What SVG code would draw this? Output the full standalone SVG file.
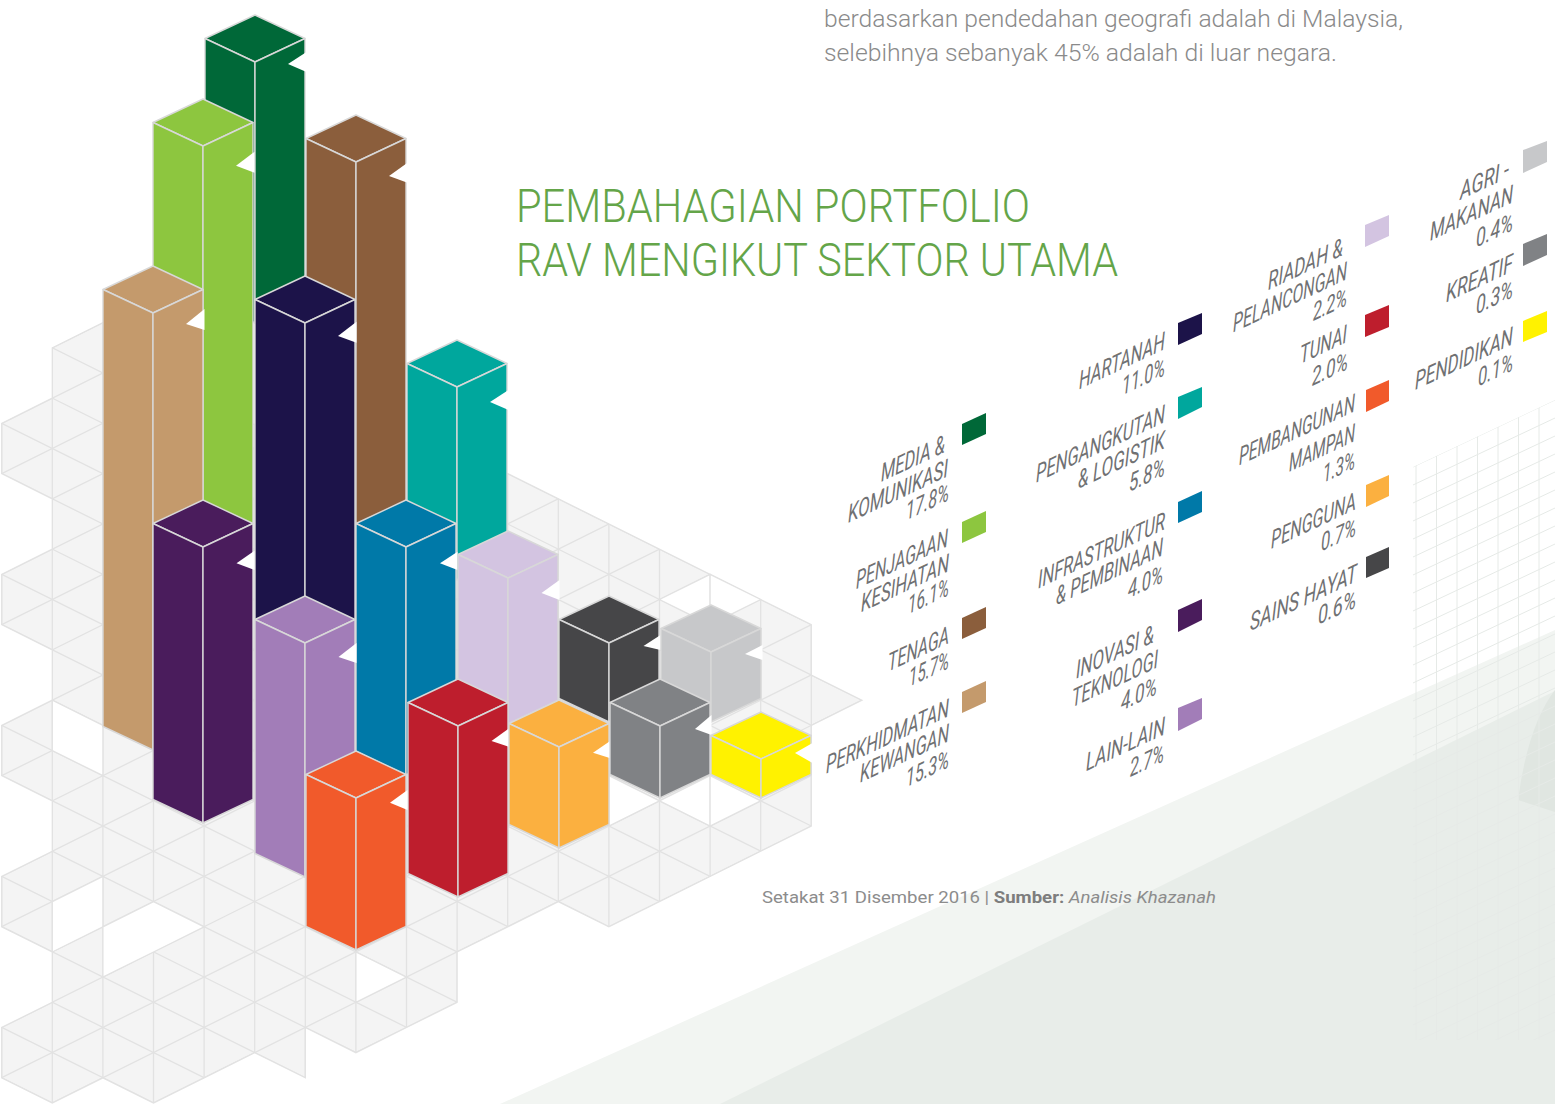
<svg xmlns="http://www.w3.org/2000/svg" width="1555" height="1104" viewBox="0 0 1555 1104">
<style>
.gl{fill:none;stroke:#e2e2e2;stroke-width:1.3}
.hole{fill:#ffffff;stroke:#e2e2e2;stroke-width:1.3;stroke-linejoin:round}
.fg{fill:none;stroke:#e6eae7;stroke-width:1}
.bar polygon{stroke:#d8d8d8;stroke-width:1.4;stroke-linejoin:round}
.bar polygon.n{fill:#ffffff;stroke:none}
.lg{font-family:Roboto,"Liberation Sans",sans-serif;font-weight:400;font-style:italic;font-size:25px;fill:#707173}
.para{font-family:Roboto,"Liberation Sans",sans-serif;font-weight:300;font-size:23px;fill:#8a8a8a}
.title{font-family:Roboto,"Liberation Sans",sans-serif;font-weight:300;font-size:46px;fill:#64a549}
.foot{font-family:Roboto,"Liberation Sans",sans-serif;font-weight:400;font-size:17px;fill:#8c8c8c}
</style>
<defs>
<clipPath id="gridclip">
<polygon id="gridpoly" points="102.9,322.6 130,330 200,420 330,430 450,450 507.7,473.6 811.3,624.7 811.3,675 861.9,700.2 811.3,725.4 811.3,826.1 608.9,926.8 558.3,901.6 507.7,926.8 457.1,952 457.1,1002.3 406.5,1027.5 355.9,1052.7 305.3,1027.5 305.3,1077.8 254.7,1052.7 204.1,1077.8 153.5,1103 102.9,1077.8 52.3,1103 1.7,1077.8 1.7,1027.5 52.3,1002.3 52.3,952 1.7,926.8 1.7,876.4 52.3,851.3 52.3,800.9 1.7,775.7 1.7,725.4 52.3,700.2 52.3,649.9 1.7,624.7 1.7,574.3 52.3,549.2 52.3,498.8 1.7,473.6 1.7,423.3 52.3,398.1 52.3,347.8"/>
</clipPath>
<clipPath id="fgclip">
<polygon points="1413,467 1555,400 1555,1040 1413,1040"/>
</clipPath>
</defs>

<rect x="0" y="0" width="1555" height="1104" fill="#ffffff"/>

<g id="background">
<polygon points="500,1104 1555,630 1555,1104" fill="#f2f5f2"/>
<polygon points="720,1104 1555,691 1555,1104" fill="#e8ede9"/>
<path d="M1555,690 Q1528,725 1518,800 L1555,812 Z" fill="#e0e6e1"/>
<g clip-path="url(#fgclip)" class="fg">
<path d="M1416,300V1040M1436.5,300V1040M1457,300V1040M1477.5,300V1040M1498,300V1040M1518.5,300V1040M1539,300V1040"/>
<path d="M1413,467l142,-67M1413,485l142,-67M1413,503l142,-67M1413,521l142,-67M1413,539l142,-67M1413,557l142,-67M1413,575l142,-67M1413,593l142,-67M1413,611l142,-67M1413,629l142,-67M1413,647l142,-67M1413,665l142,-67M1413,683l142,-67M1413,701l142,-67M1413,719l142,-67M1413,737l142,-67M1413,755l142,-67M1413,773l142,-67M1413,791l142,-67M1413,809l142,-67M1413,827l142,-67M1413,845l142,-67M1413,863l142,-67M1413,881l142,-67M1413,899l142,-67M1413,917l142,-67M1413,935l142,-67M1413,953l142,-67M1413,971l142,-67M1413,989l142,-67M1413,1007l142,-67M1413,1025l142,-67M1413,1043l142,-67M1413,1061l142,-67M1413,1079l142,-67M1413,1097l142,-67"/>
</g>
</g>

<g id="grid">
<use href="#gridpoly" fill="#f4f4f4" stroke="#e2e2e2" stroke-width="1.3"/>
<g clip-path="url(#gridclip)" class="gl">
<path d="M1.7,280V1104M52.3,280V1104M102.9,280V1104M153.5,280V1104M204.1,280V1104M254.7,280V1104M305.3,280V1104M355.9,280V1104M406.5,280V1104M457.1,280V1104M507.7,280V1104M558.3,280V1104M608.9,280V1104M659.5,280V1104M710.1,280V1104M760.7,280V1104M811.3,280V1104M861.9,280V1104"/>
<path d="M0,-131.29l870,432.77M0,-80.95l870,432.77M0,-30.61l870,432.77M0,19.73l870,432.77M0,70.07l870,432.77M0,120.41l870,432.77M0,170.75l870,432.77M0,221.09l870,432.77M0,271.43l870,432.77M0,321.77l870,432.77M0,372.11l870,432.77M0,422.45l870,432.77M0,472.79l870,432.77M0,523.13l870,432.77M0,573.47l870,432.77M0,623.81l870,432.77M0,674.15l870,432.77M0,724.49l870,432.77M0,774.83l870,432.77M0,825.17l870,432.77M0,875.51l870,432.77M0,925.85l870,432.77M0,976.19l870,432.77M0,1026.53l870,432.77M0,1076.87l870,432.77"/>
<path d="M0,273.13l870,-432.77M0,323.47l870,-432.77M0,373.81l870,-432.77M0,424.15l870,-432.77M0,474.49l870,-432.77M0,524.83l870,-432.77M0,575.17l870,-432.77M0,625.51l870,-432.77M0,675.85l870,-432.77M0,726.19l870,-432.77M0,776.53l870,-432.77M0,826.87l870,-432.77M0,877.21l870,-432.77M0,927.55l870,-432.77M0,977.89l870,-432.77M0,1028.23l870,-432.77M0,1078.57l870,-432.77M0,1128.91l870,-432.77M0,1179.25l870,-432.77M0,1229.59l870,-432.77M0,1279.93l870,-432.77M0,1330.27l870,-432.77M0,1380.61l870,-432.77M0,1430.95l870,-432.77M0,1481.29l870,-432.77M0,1531.63l870,-432.77"/>
</g>
<polygon class="hole" points="52.3,700.2 102.9,725.4 102.9,775.7 52.3,750.6"/>
<polygon class="hole" points="52.3,901.6 102.9,876.4 102.9,926.8 52.3,952"/>
<polygon class="hole" points="102.9,926.8 153.5,901.6 204.1,926.8 153.5,952 102.9,977.1"/>
<polygon class="hole" points="355.9,952 406.5,977.1 355.9,1002.3"/>
<polygon class="hole" points="608.9,775.7 659.5,800.9 608.9,826.1"/>
<polygon class="hole" points="659.5,800.9 710.1,775.7 710.1,826.1"/>
<polygon class="hole" points="710.1,775.7 760.7,800.9 710.1,826.1"/>
<polygon class="hole" points="659.5,599.5 710.1,574.3 710.1,624.7"/>
<polygon class="hole" points="710.1,574.3 760.7,599.5 710.1,624.7"/>
</g>

<g id="bars">
<g id="bar-media" class="bar" fill="#006838">
<polygon points="255,15 305,38.5 255,62 205,38.5"/>
<polygon points="205,38.5 255,62 255,323 205,299.5"/>
<polygon points="255,62 305,38.5 305,299.5 255,323"/>
<polygon class="n" points="306.5,52 288,64 306.5,72"/>
</g>
<g id="bar-penjagaan" class="bar" fill="#8dc63f">
<polygon points="203,99 253,122.5 203,146 153,122.5"/>
<polygon points="153,122.5 203,146 203,547 153,523.5"/>
<polygon points="203,146 253,122.5 253,523.5 203,547"/>
<polygon class="n" points="254.5,151.7 236,165.7 254.5,172.7"/>
</g>
<g id="bar-tenaga" class="bar" fill="#8b5e3c">
<polygon points="356,115 406,138.5 356,162 306,138.5"/>
<polygon points="306,138.5 356,162 356,547 306,523.5"/>
<polygon points="356,162 406,138.5 406,523.5 356,547"/>
<polygon class="n" points="407.5,162.7 389,176 407.5,182.7"/>
</g>
<g id="bar-perkhidmatan" class="bar" fill="#c49a6c">
<polygon points="153,266 203,289.5 153,313 103,289.5"/>
<polygon points="103,289.5 153,313 153,750 103,726.5"/>
<polygon points="153,313 203,289.5 203,726.5 153,750"/>
<polygon class="n" points="204.5,309 186,324 204.5,330"/>
</g>
<g id="bar-hartanah" class="bar" fill="#1c1349">
<polygon points="305,276 355,299.5 305,323 255,299.5"/>
<polygon points="255,299.5 305,323 305,643 255,619.5"/>
<polygon points="305,323 355,299.5 355,619.5 305,643"/>
<polygon class="n" points="356.5,321.7 338,336 356.5,342.7"/>
</g>
<g id="bar-pengangkutan" class="bar" fill="#00a79d">
<polygon points="457,340 507,363.5 457,387 407,363.5"/>
<polygon points="407,363.5 457,387 457,580 407,556.5"/>
<polygon points="457,387 507,363.5 507,556.5 457,580"/>
<polygon class="n" points="508.5,390 490,402 508.5,410"/>
</g>
<g id="bar-inovasi" class="bar" fill="#4a1c5c">
<polygon points="203,500 253,523.5 203,547 153,523.5"/>
<polygon points="153,523.5 203,547 203,823 153,799.5"/>
<polygon points="203,547 253,523.5 253,799.5 203,823"/>
<polygon class="n" points="254.5,550.7 236.5,563.3 254.5,570"/>
</g>
<g id="bar-infrastruktur" class="bar" fill="#0079a8">
<polygon points="406,500 456,523.5 406,547 356,523.5"/>
<polygon points="356,523.5 406,547 406,775 356,751.5"/>
<polygon points="406,547 456,523.5 456,751.5 406,775"/>
<polygon class="n" points="457.5,551.7 440,563.3 457.5,570"/>
</g>
<g id="bar-riadah" class="bar" fill="#d3c4e1">
<polygon points="508,531 558,554.5 508,578 458,554.5"/>
<polygon points="458,554.5 508,578 508,724 458,700.5"/>
<polygon points="508,578 558,554.5 558,700.5 508,724"/>
<polygon class="n" points="559.5,580 541.5,593 559.5,600"/>
</g>
<g id="bar-lainlain" class="bar" fill="#a27db8">
<polygon points="305,596 355,619.5 305,643 255,619.5"/>
<polygon points="255,619.5 305,643 305,877 255,853.5"/>
<polygon points="305,643 355,619.5 355,853.5 305,877"/>
<polygon class="n" points="356.5,643 338.5,657 356.5,663"/>
</g>
<g id="bar-sainshayat" class="bar" fill="#464648">
<polygon points="609,596 659,619.5 609,643 559,619.5"/>
<polygon points="559,619.5 609,643 609,722 559,698.5"/>
<polygon points="609,643 659,619.5 659,698.5 609,722"/>
<polygon class="n" points="660.5,635 643.5,646 660.5,650"/>
</g>
<g id="bar-agri" class="bar" fill="#c7c8ca">
<polygon points="711,605 761,628.5 711,652 661,628.5"/>
<polygon points="661,628.5 711,652 711,722 661,698.5"/>
<polygon points="711,652 761,628.5 761,698.5 711,722"/>
<polygon class="n" points="762.5,645 745,654 762.5,660"/>
</g>
<g id="bar-tunai" class="bar" fill="#be1e2d">
<polygon points="458,679 508,702.5 458,726 408,702.5"/>
<polygon points="408,702.5 458,726 458,897 408,873.5"/>
<polygon points="458,726 508,702.5 508,873.5 458,897"/>
<polygon class="n" points="509.5,728 491.5,741 509.5,747"/>
</g>
<g id="bar-pengguna" class="bar" fill="#fbb040">
<polygon points="559,700 609,723.5 559,747 509,723.5"/>
<polygon points="509,723.5 559,747 559,848 509,824.5"/>
<polygon points="559,747 609,723.5 609,824.5 559,848"/>
<polygon class="n" points="610.5,740.7 593,752.7 610.5,758.3"/>
</g>
<g id="bar-kreatif" class="bar" fill="#808285">
<polygon points="660,679 710,702.5 660,726 610,702.5"/>
<polygon points="610,702.5 660,726 660,798 610,774.5"/>
<polygon points="660,726 710,702.5 710,774.5 660,798"/>
<polygon class="n" points="711.5,715 695,729 711.5,735"/>
</g>
<g id="bar-pendidikan" class="bar" fill="#fff200">
<polygon points="761,712 811,735.5 761,759 711,735.5"/>
<polygon points="711,735.5 761,759 761,798 711,774.5"/>
<polygon points="761,759 811,735.5 811,774.5 761,798"/>
<polygon class="n" points="812.5,743 795,753 812.5,763"/>
</g>
<g id="bar-pembangunan" class="bar" fill="#f15a2b">
<polygon points="356,751 406,774.5 356,798 306,774.5"/>
<polygon points="306,774.5 356,798 356,950 306,926.5"/>
<polygon points="356,798 406,774.5 406,926.5 356,950"/>
<polygon class="n" points="407.5,790 390,802.7 407.5,810"/>
</g>
</g>

<g id="intro-text" class="para">
<text x="824" y="27" textLength="579" lengthAdjust="spacingAndGlyphs">berdasarkan pendedahan geografi adalah di Malaysia,</text>
<text x="824" y="61" textLength="513" lengthAdjust="spacingAndGlyphs">selebihnya sebanyak 45% adalah di luar negara.</text>
</g>

<g id="title" class="title">
<text x="516" y="222" textLength="514" lengthAdjust="spacingAndGlyphs">PEMBAHAGIAN PORTFOLIO</text>
<text x="516" y="276" textLength="602" lengthAdjust="spacingAndGlyphs">RAV MENGIKUT SEKTOR UTAMA</text>
</g>

<g id="legend" class="lg" text-anchor="end">
<g id="lg-media">
<polygon points="962,424 986,413 986,434 962,445" fill="#006838"/>
<text transform="matrix(1,-0.47,0,1,945,452)" textLength="64" lengthAdjust="spacingAndGlyphs">MEDIA &amp;</text>
<text transform="matrix(1,-0.47,0,1,948,476)" textLength="100" lengthAdjust="spacingAndGlyphs">KOMUNIKASI</text>
<text transform="matrix(1,-0.47,0,1,949,500)" textLength="43" lengthAdjust="spacingAndGlyphs">17.8%</text>
</g>
<g id="lg-penjagaan">
<polygon points="962,522 986,511 986,532 962,543" fill="#8dc63f"/>
<text transform="matrix(1,-0.47,0,1,948,546)" textLength="92" lengthAdjust="spacingAndGlyphs">PENJAGAAN</text>
<text transform="matrix(1,-0.47,0,1,949,571)" textLength="88" lengthAdjust="spacingAndGlyphs">KESIHATAN</text>
<text transform="matrix(1,-0.47,0,1,949,595)" textLength="41" lengthAdjust="spacingAndGlyphs">16.1%</text>
</g>
<g id="lg-tenaga">
<polygon points="962,618 986,607 986,628 962,639" fill="#8b5e3c"/>
<text transform="matrix(1,-0.47,0,1,949,643)" textLength="61" lengthAdjust="spacingAndGlyphs">TENAGA</text>
<text transform="matrix(1,-0.47,0,1,949,668)" textLength="40" lengthAdjust="spacingAndGlyphs">15.7%</text>
</g>
<g id="lg-perkhidmatan">
<polygon points="962,692 986,681 986,702 962,713" fill="#c49a6c"/>
<text transform="matrix(1,-0.47,0,1,949,716)" textLength="123" lengthAdjust="spacingAndGlyphs">PERKHIDMATAN</text>
<text transform="matrix(1,-0.47,0,1,949,741)" textLength="89" lengthAdjust="spacingAndGlyphs">KEWANGAN</text>
<text transform="matrix(1,-0.47,0,1,949,767)" textLength="43" lengthAdjust="spacingAndGlyphs">15.3%</text>
</g>
<g id="lg-hartanah">
<polygon points="1178,323 1202,313 1202,334 1178,345" fill="#1c1349"/>
<text transform="matrix(1,-0.47,0,1,1165,349)" textLength="86" lengthAdjust="spacingAndGlyphs">HARTANAH</text>
<text transform="matrix(1,-0.47,0,1,1165,375)" textLength="43" lengthAdjust="spacingAndGlyphs">11.0%</text>
</g>
<g id="lg-pengangkutan">
<polygon points="1178,397 1202,387 1202,407 1178,419" fill="#00a79d"/>
<text transform="matrix(1,-0.47,0,1,1165,422)" textLength="129" lengthAdjust="spacingAndGlyphs">PENGANGKUTAN</text>
<text transform="matrix(1,-0.47,0,1,1165,448)" textLength="87" lengthAdjust="spacingAndGlyphs">&amp; LOGISTIK</text>
<text transform="matrix(1,-0.47,0,1,1165,475)" textLength="36" lengthAdjust="spacingAndGlyphs">5.8%</text>
</g>
<g id="lg-infrastruktur">
<polygon points="1178,502 1202,491 1202,512 1178,523" fill="#0079a8"/>
<text transform="matrix(1,-0.47,0,1,1165,529)" textLength="127" lengthAdjust="spacingAndGlyphs">INFRASTRUKTUR</text>
<text transform="matrix(1,-0.47,0,1,1163,555)" textLength="107" lengthAdjust="spacingAndGlyphs">&amp; PEMBINAAN</text>
<text transform="matrix(1,-0.47,0,1,1163,582)" textLength="35" lengthAdjust="spacingAndGlyphs">4.0%</text>
</g>
<g id="lg-inovasi">
<polygon points="1178,610 1202,599 1202,620 1178,632" fill="#4a1c5c"/>
<text transform="matrix(1,-0.47,0,1,1154,642)" textLength="78" lengthAdjust="spacingAndGlyphs">INOVASI &amp;</text>
<text transform="matrix(1,-0.47,0,1,1158,667)" textLength="86" lengthAdjust="spacingAndGlyphs">TEKNOLOGI</text>
<text transform="matrix(1,-0.47,0,1,1157,694)" textLength="36" lengthAdjust="spacingAndGlyphs">4.0%</text>
</g>
<g id="lg-lainlain">
<polygon points="1178,708 1202,698 1202,719 1178,731" fill="#a27db8"/>
<text transform="matrix(1,-0.47,0,1,1165,734)" textLength="79" lengthAdjust="spacingAndGlyphs">LAIN-LAIN</text>
<text transform="matrix(1,-0.47,0,1,1164,761)" textLength="34" lengthAdjust="spacingAndGlyphs">2.7%</text>
</g>
<g id="lg-riadah">
<polygon points="1365,225 1389,215 1389,236 1365,247" fill="#d3c4e1"/>
<text transform="matrix(1,-0.47,0,1,1343,255)" textLength="75" lengthAdjust="spacingAndGlyphs">RIADAH &amp;</text>
<text transform="matrix(1,-0.47,0,1,1347,279)" textLength="114" lengthAdjust="spacingAndGlyphs">PELANCONGAN</text>
<text transform="matrix(1,-0.47,0,1,1347,305)" textLength="34" lengthAdjust="spacingAndGlyphs">2.2%</text>
</g>
<g id="lg-tunai">
<polygon points="1365,315 1389,305 1389,327 1365,337" fill="#be1e2d"/>
<text transform="matrix(1,-0.47,0,1,1347,342)" textLength="47" lengthAdjust="spacingAndGlyphs">TUNAI</text>
<text transform="matrix(1,-0.47,0,1,1348,369)" textLength="36" lengthAdjust="spacingAndGlyphs">2.0%</text>
</g>
<g id="lg-pembangunan">
<polygon points="1366,390 1389,380 1389,401 1366,412" fill="#f15a2b"/>
<text transform="matrix(1,-0.47,0,1,1355,411)" textLength="116" lengthAdjust="spacingAndGlyphs">PEMBANGUNAN</text>
<text transform="matrix(1,-0.47,0,1,1355,441)" textLength="66" lengthAdjust="spacingAndGlyphs">MAMPAN</text>
<text transform="matrix(1,-0.47,0,1,1355,468)" textLength="32" lengthAdjust="spacingAndGlyphs">1.3%</text>
</g>
<g id="lg-pengguna">
<polygon points="1366,485 1389,475 1389,496 1366,507" fill="#fbb040"/>
<text transform="matrix(1,-0.47,0,1,1356,509)" textLength="85" lengthAdjust="spacingAndGlyphs">PENGGUNA</text>
<text transform="matrix(1,-0.47,0,1,1356,535)" textLength="35" lengthAdjust="spacingAndGlyphs">0.7%</text>
</g>
<g id="lg-sainshayat">
<polygon points="1366,557 1389,547 1389,568 1366,578" fill="#464648"/>
<text transform="matrix(1,-0.47,0,1,1357,581)" textLength="107" lengthAdjust="spacingAndGlyphs">SAINS HAYAT</text>
<text transform="matrix(1,-0.47,0,1,1356,607)" textLength="38" lengthAdjust="spacingAndGlyphs">0.6%</text>
</g>
<g id="lg-agri">
<polygon points="1523,150 1547,141 1547,162 1523,173" fill="#c7c8ca"/>
<text transform="matrix(1,-0.47,0,1,1509,177)" textLength="49" lengthAdjust="spacingAndGlyphs">AGRI -</text>
<text transform="matrix(1,-0.47,0,1,1513,202)" textLength="83" lengthAdjust="spacingAndGlyphs">MAKANAN</text>
<text transform="matrix(1,-0.47,0,1,1513,230)" textLength="37" lengthAdjust="spacingAndGlyphs">0.4%</text>
</g>
<g id="lg-kreatif">
<polygon points="1523,244 1547,234 1547,255 1523,266" fill="#808285"/>
<text transform="matrix(1,-0.47,0,1,1513,271)" textLength="67" lengthAdjust="spacingAndGlyphs">KREATIF</text>
<text transform="matrix(1,-0.47,0,1,1513,297)" textLength="37" lengthAdjust="spacingAndGlyphs">0.3%</text>
</g>
<g id="lg-pendidikan">
<polygon points="1523,321 1547,311 1547,332 1523,342" fill="#fff200"/>
<text transform="matrix(1,-0.47,0,1,1513,344)" textLength="98" lengthAdjust="spacingAndGlyphs">PENDIDIKAN</text>
<text transform="matrix(1,-0.47,0,1,1513,370)" textLength="35" lengthAdjust="spacingAndGlyphs">0.1%</text>
</g>
</g>

<g id="footnote">
<text class="foot" x="762" y="903" textLength="454" lengthAdjust="spacingAndGlyphs">Setakat 31 Disember 2016 | <tspan font-weight="700" fill="#7d7d7d">Sumber:</tspan> <tspan font-style="italic">Analisis Khazanah</tspan></text>
</g>
</svg>
